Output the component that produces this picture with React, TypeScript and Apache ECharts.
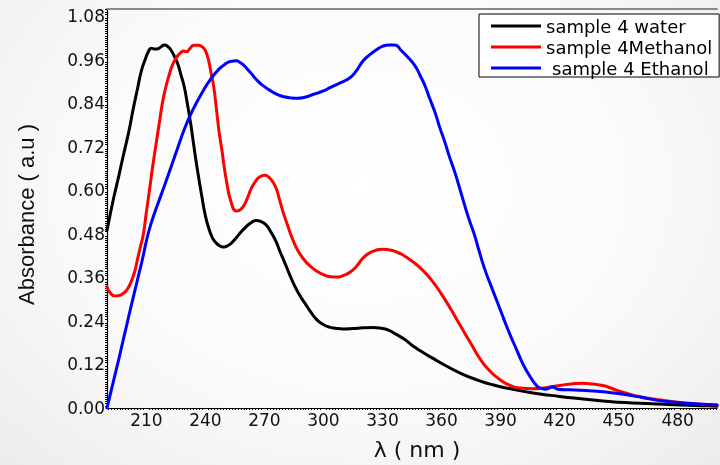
import React, { useEffect, useRef } from "react";
import * as echarts from "echarts";

// Absorbance spectra, [wavelength (nm), absorbance (a.u.)]
const water: [number, number][] = [
  [190, 0.49], [191.5, 0.53], [193.3, 0.577], [196, 0.64], [198.3, 0.696], [201, 0.76],
  [203.3, 0.824], [205.5, 0.88], [207.5, 0.93], [209.5, 0.962], [211, 0.982], [212.5, 0.992],
  [214, 0.99], [215.5, 0.99], [217.5, 0.996], [219.2, 1.001], [221, 0.996], [222.5, 0.987],
  [224, 0.972], [225.8, 0.951], [227.5, 0.92], [229.2, 0.887], [230.8, 0.84], [232.5, 0.785],
  [234.2, 0.72], [236, 0.655], [238.3, 0.58], [240, 0.53], [241.7, 0.496], [243.5, 0.47],
  [245, 0.458], [247, 0.448], [249.2, 0.444], [251.5, 0.448], [254.2, 0.46], [257, 0.478],
  [260, 0.496], [263, 0.51], [265.8, 0.517], [268.3, 0.514], [270.8, 0.505], [273.3, 0.485],
  [275.8, 0.46], [278, 0.43], [280, 0.405], [282.5, 0.372], [285, 0.341], [288, 0.31],
  [290.8, 0.287], [293.5, 0.265], [296.7, 0.243], [300, 0.23], [303, 0.223], [306, 0.22],
  [310, 0.218], [315, 0.219], [320, 0.221], [325, 0.222], [330, 0.219], [333.3, 0.214],
  [337, 0.203], [341, 0.19], [345, 0.173], [350, 0.155], [355, 0.139], [361.7, 0.118],
  [370, 0.095], [378.3, 0.077], [386, 0.064], [395, 0.053], [405, 0.043], [420, 0.032],
  [432, 0.025], [445, 0.018], [457, 0.014], [470, 0.011], [482, 0.008], [495, 0.006], [500, 0.005],
];

const methanol: [number, number][] = [
  [190, 0.334], [192, 0.315], [194, 0.309], [196, 0.31], [198, 0.315], [200, 0.325],
  [202, 0.345], [204, 0.375], [205.5, 0.41], [207, 0.445], [208.5, 0.48], [210, 0.54],
  [211.7, 0.605], [213.3, 0.669], [215, 0.73], [216.7, 0.79], [218.3, 0.845], [220, 0.887],
  [221.7, 0.92], [223.3, 0.946], [225.5, 0.968], [227.5, 0.98], [229, 0.984], [230.3, 0.982],
  [232, 0.99], [234.2, 1.0], [236.3, 1.0], [238.3, 0.996], [240, 0.985], [241.7, 0.956],
  [243, 0.92], [244.2, 0.887], [245.8, 0.815], [247, 0.76], [248.3, 0.714], [250.8, 0.623],
  [253.3, 0.564], [255.8, 0.543], [257.5, 0.546], [259.2, 0.555], [261.3, 0.578], [263.3, 0.605],
  [265.5, 0.625], [267.5, 0.637], [270.3, 0.642], [272.3, 0.636], [274.2, 0.624], [276, 0.605],
  [277.5, 0.578], [279.5, 0.54], [281.7, 0.505], [284, 0.47], [286.7, 0.437], [290, 0.41],
  [293.3, 0.391], [296.7, 0.377], [300, 0.368], [303.3, 0.362], [306.7, 0.361], [310, 0.365],
  [313.3, 0.374], [316.7, 0.39], [320, 0.413], [323.3, 0.427], [326.7, 0.435], [330, 0.438],
  [333.3, 0.436], [336.7, 0.431], [340, 0.423], [345, 0.405], [350, 0.382], [355, 0.352],
  [360, 0.314], [365, 0.27], [370, 0.223], [375, 0.177], [380, 0.132], [385, 0.1],
  [390, 0.077], [395, 0.062], [400, 0.055], [406, 0.053], [413, 0.056], [420, 0.062],
  [427, 0.067], [432, 0.068], [437, 0.066], [442, 0.062], [447, 0.053], [453, 0.042],
  [460, 0.032], [470, 0.023], [480, 0.016], [490, 0.011], [500, 0.008],
];

const ethanol: [number, number][] = [
  [190, 0.0], [192, 0.045], [194, 0.09], [196, 0.135], [198, 0.182], [200, 0.228],
  [202, 0.275], [204, 0.32], [206, 0.365], [208, 0.41], [210, 0.46], [211.7, 0.496],
  [214, 0.535], [217, 0.58], [221.7, 0.651], [226, 0.718], [230, 0.778], [234, 0.826],
  [238.3, 0.869], [242.5, 0.905], [246.7, 0.933], [250, 0.948], [253.3, 0.956], [255.5, 0.957],
  [258, 0.951], [260, 0.942], [263, 0.924], [266.7, 0.901], [270, 0.886], [273.3, 0.874],
  [276.7, 0.864], [280, 0.858], [283.3, 0.855], [286.7, 0.854], [290, 0.856], [295, 0.865],
  [300, 0.874], [303.3, 0.883], [308, 0.895], [313.3, 0.91], [316.5, 0.928], [320, 0.956],
  [323.3, 0.973], [326.7, 0.987], [330, 0.997], [333.3, 1.001], [336, 1.001], [340, 0.983],
  [343.3, 0.965], [346.7, 0.942], [349, 0.918], [351.7, 0.887], [354, 0.853], [356.7, 0.815],
  [359, 0.775], [361.7, 0.733], [364, 0.693], [366.7, 0.651], [369, 0.61], [371.7, 0.56],
  [374, 0.52], [376.7, 0.478], [379, 0.435], [381.7, 0.387], [386, 0.325], [390, 0.269],
  [394, 0.213], [398.3, 0.159], [401.5, 0.12], [405, 0.087], [407.5, 0.067], [410, 0.055],
  [413, 0.052], [416.5, 0.058], [419, 0.052], [425, 0.05], [436.7, 0.047], [445, 0.043],
  [453.3, 0.037], [462, 0.029], [470, 0.021], [480, 0.015], [490, 0.011], [500, 0.008],
];

const seriesNames = ["sample 4 water", "sample 4Methanol", "sample 4 Ethanol"];
const seriesColors = ["#000000", "#ff0000", "#0000ff"];

// axis ranges and tick steps
const xRange = [190, 500];
const xTickStep = 30;
const yRange = [0, 1.1];
const yTickStep = 0.12;

const tickFont = "DejaVu Sans";

export default function App() {
  const ref = useRef<HTMLDivElement>(null);

  useEffect(() => {
    if (!ref.current) return;
    const chart = echarts.init(ref.current, undefined, { renderer: "svg" });

    const isXTick = (v: number) => Math.abs(v / xTickStep - Math.round(v / xTickStep)) < 1e-6;
    const isYTick = (v: number) => Math.abs(v / yTickStep - Math.round(v / yTickStep)) < 1e-6;

    const lineData = [water, methanol, ethanol];

    chart.setOption({
      animation: false,
      backgroundColor: "transparent",
      grid: { left: 107, right: -7, top: 9, bottom: 53 },
      legend: {
        orient: "vertical",
        left: 479,
        top: 14,
        padding: [3, 7, 0, 12],
        itemGap: 3,
        itemWidth: 50,
        itemHeight: 3,
        itemTextGap: 5,
        icon: "rect",
        borderColor: "#000",
        borderWidth: 1,
        backgroundColor: "#ffffff",
        textStyle: { fontFamily: tickFont, fontSize: 18, color: "#000", lineHeight: 18 },
        data: [
          { name: seriesNames[0] },
          { name: seriesNames[1] },
          { name: seriesNames[2], textStyle: { padding: [0, 0, 0, 6] } },
        ],
      },
      xAxis: [
        {
          type: "value",
          min: xRange[0],
          max: xRange[1],
          splitNumber: 10,
          name: "λ ( nm )",
          nameLocation: "middle",
          nameGap: 30,
          nameTextStyle: {
            fontFamily: tickFont,
            fontSize: 22,
            color: "#111",
            padding: [0, 0, 0, 10],
          },
          axisLine: { show: true, lineStyle: { color: "#000", width: 1.2 } },
          axisTick: { show: false },
          minorTick: { show: true, splitNumber: 20, length: 2, lineStyle: { color: "#000", width: 1 } },
          splitLine: { show: false },
          axisLabel: {
            margin: 3,
            fontFamily: tickFont,
            fontSize: 17,
            color: "#111",
            formatter: (v: number) => (isXTick(v) ? String(Math.round(v)) : ""),
          },
        },
        {
          type: "value",
          position: "top",
          min: xRange[0],
          max: xRange[1],
          axisLine: { show: true, lineStyle: { color: "#8a8a8a", width: 2 } },
          axisTick: { show: false },
          axisLabel: { show: false },
          splitLine: { show: false },
        },
      ],
      yAxis: {
        type: "value",
        min: yRange[0],
        max: yRange[1],
        interval: yTickStep,
        name: "Absorbance ( a.u )",
        nameLocation: "middle",
        nameGap: 70,
        nameTextStyle: {
          fontFamily: "Liberation Sans",
          fontSize: 22,
          color: "#111",
          padding: [0, 12, 0, 0],
        },
        axisLine: { show: true, lineStyle: { color: "#000", width: 1.2 } },
        axisTick: { show: false },
        minorTick: { show: true, splitNumber: 20, length: 2, lineStyle: { color: "#000", width: 1 } },
        splitLine: { show: false },
        axisLabel: {
          margin: 2,
          fontFamily: tickFont,
          fontSize: 17,
          color: "#111",
          formatter: (v: number) => (isYTick(v) ? v.toFixed(2) : ""),
        },
      },
      series: lineData.map((d, i) => ({
        name: seriesNames[i],
        type: "line",
        xAxisIndex: 0,
        data: d,
        showSymbol: false,
        symbol: "none",
        smooth: 0.55,
        lineStyle: { color: seriesColors[i], width: 3, join: "round", cap: "round" },
        itemStyle: { color: seriesColors[i] },
      })),
    });

    return () => chart.dispose();
  }, []);

  return (
    <div
      style={{
        position: "fixed",
        left: 0,
        top: 0,
        width: 720,
        height: 465,
        background:
          "radial-gradient(ellipse at 50% 40%, #ffffff 0%, #fcfbfb 50%, #f3f1f0 85%, #eeeceb 100%)",
      }}
    >
      <div ref={ref} style={{ width: 720, height: 465 }} />
    </div>
  );
}
